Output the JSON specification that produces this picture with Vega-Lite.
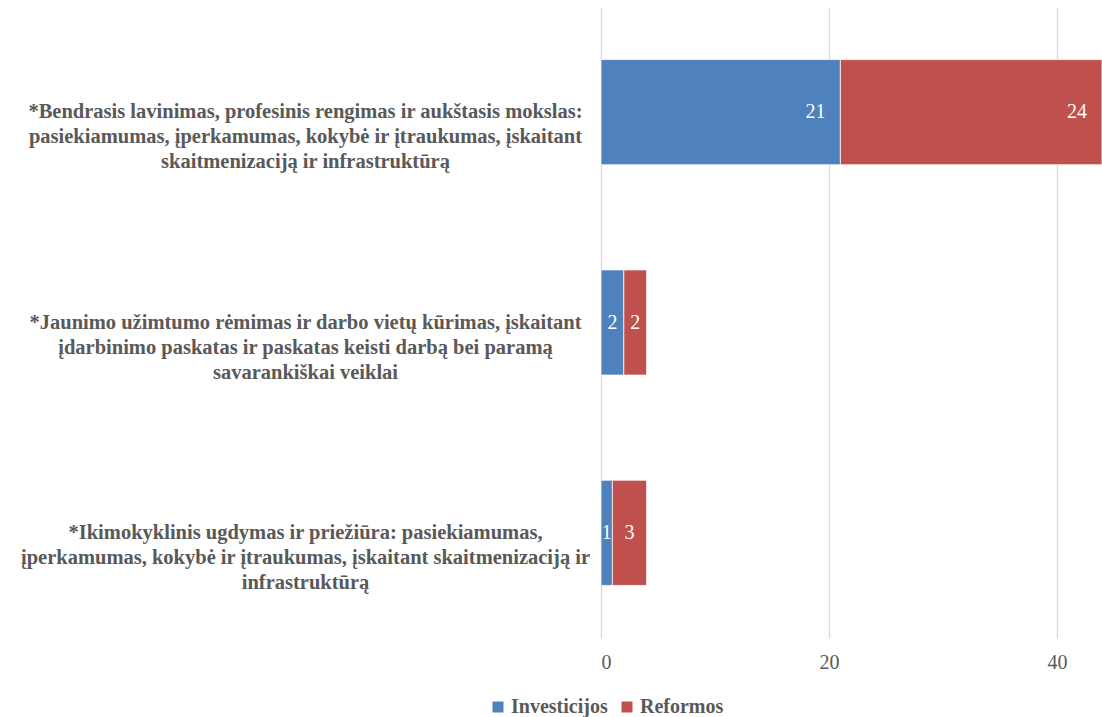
{
  "$schema": "https://vega.github.io/schema/vega-lite/v6.json",
  "width": 501,
  "height": 631,
  "autosize": {"type": "none"},
  "padding": {"left": 601, "top": 7, "right": 0, "bottom": 79},
  "background": "white",
  "config": {
    "view": {"stroke": null},
    "font": "Liberation Serif"
  },
  "data": {
    "values": [
      {"category": "*Bendrasis lavinimas, profesinis rengimas ir aukštasis mokslas:|pasiekiamumas, įperkamumas, kokybė ir įtraukumas, įskaitant|skaitmenizaciją ir infrastruktūrą", "cat_order": 1, "type": "Investicijos", "type_order": 1, "value": 21},
      {"category": "*Bendrasis lavinimas, profesinis rengimas ir aukštasis mokslas:|pasiekiamumas, įperkamumas, kokybė ir įtraukumas, įskaitant|skaitmenizaciją ir infrastruktūrą", "cat_order": 1, "type": "Reformos", "type_order": 2, "value": 24},
      {"category": "*Jaunimo užimtumo rėmimas ir darbo vietų kūrimas, įskaitant|įdarbinimo paskatas ir paskatas keisti darbą bei paramą|savarankiškai veiklai", "cat_order": 2, "type": "Investicijos", "type_order": 1, "value": 2},
      {"category": "*Jaunimo užimtumo rėmimas ir darbo vietų kūrimas, įskaitant|įdarbinimo paskatas ir paskatas keisti darbą bei paramą|savarankiškai veiklai", "cat_order": 2, "type": "Reformos", "type_order": 2, "value": 2},
      {"category": "*Ikimokyklinis ugdymas ir priežiūra: pasiekiamumas,|įperkamumas, kokybė ir įtraukumas, įskaitant skaitmenizaciją ir|infrastruktūrą", "cat_order": 3, "type": "Investicijos", "type_order": 1, "value": 1},
      {"category": "*Ikimokyklinis ugdymas ir priežiūra: pasiekiamumas,|įperkamumas, kokybė ir įtraukumas, įskaitant skaitmenizaciją ir|infrastruktūrą", "cat_order": 3, "type": "Reformos", "type_order": 2, "value": 3}
    ]
  },
  "transform": [
    {"stack": "value", "groupby": ["category"], "sort": [{"field": "type_order", "order": "ascending"}], "as": ["x0", "x1"]},
    {"calculate": "(datum.x0 + datum.x1) / 2", "as": "xmid"}
  ],
  "encoding": {
    "y": {
      "field": "category",
      "type": "nominal",
      "sort": {"field": "cat_order", "op": "min", "order": "ascending"},
      "scale": {"paddingInner": 0.5, "paddingOuter": 0.25},
      "axis": {
        "title": null,
        "domain": false,
        "ticks": false,
        "labelExpr": "split(datum.label, '|')",
        "labelAlign": "center",
        "labelBaseline": "middle",
        "labelPadding": 296,
        "labelLimit": 0,
        "labelFont": "Liberation Serif",
        "labelFontWeight": "bold",
        "labelFontSize": 20.5,
        "labelLineHeight": 25,
        "labelColor": "#595959"
      }
    }
  },
  "layer": [
    {
      "mark": {"type": "bar", "stroke": "white", "strokeWidth": 0.75},
      "encoding": {
        "x": {
          "field": "x0",
          "type": "quantitative",
          "scale": {"domain": [0, 43.95], "nice": false, "clamp": true},
          "axis": {
            "title": null,
            "values": [0, 20, 40],
            "domain": false,
            "ticks": false,
            "grid": true,
            "gridColor": "#d9d9d9",
            "gridWidth": 1.3,
            "labelFont": "Liberation Serif",
            "labelFontSize": 20,
            "labelColor": "#595959",
            "labelPadding": 14
          }
        },
        "x2": {"field": "x1"},
        "color": {
          "field": "type",
          "type": "nominal",
          "sort": ["Investicijos", "Reformos"],
          "scale": {"domain": ["Investicijos", "Reformos"], "range": ["#4f81bd", "#c0504d"]},
          "legend": {
            "title": null,
            "orient": "none",
            "direction": "horizontal",
            "legendX": -113,
            "legendY": 690,
            "symbolType": "square",
            "symbolSize": 121,
            "symbolStrokeWidth": 0,
            "labelFont": "Liberation Serif",
            "labelFontWeight": "bold",
            "labelFontSize": 20,
            "labelColor": "#595959",
            "labelOffset": 3,
            "columnPadding": 9
          }
        }
      }
    },
    {
      "transform": [{"filter": "datum.value >= 10"}],
      "mark": {"type": "text", "align": "right", "baseline": "middle", "dx": -15, "font": "Liberation Serif", "fontSize": 20, "color": "white"},
      "encoding": {
        "x": {"field": "x1", "type": "quantitative"},
        "text": {"field": "value", "type": "quantitative"}
      }
    },
    {
      "transform": [{"filter": "datum.value < 10"}],
      "mark": {"type": "text", "align": "center", "baseline": "middle", "font": "Liberation Serif", "fontSize": 20, "color": "white"},
      "encoding": {
        "x": {"field": "xmid", "type": "quantitative"},
        "text": {"field": "value", "type": "quantitative"}
      }
    }
  ]
}
